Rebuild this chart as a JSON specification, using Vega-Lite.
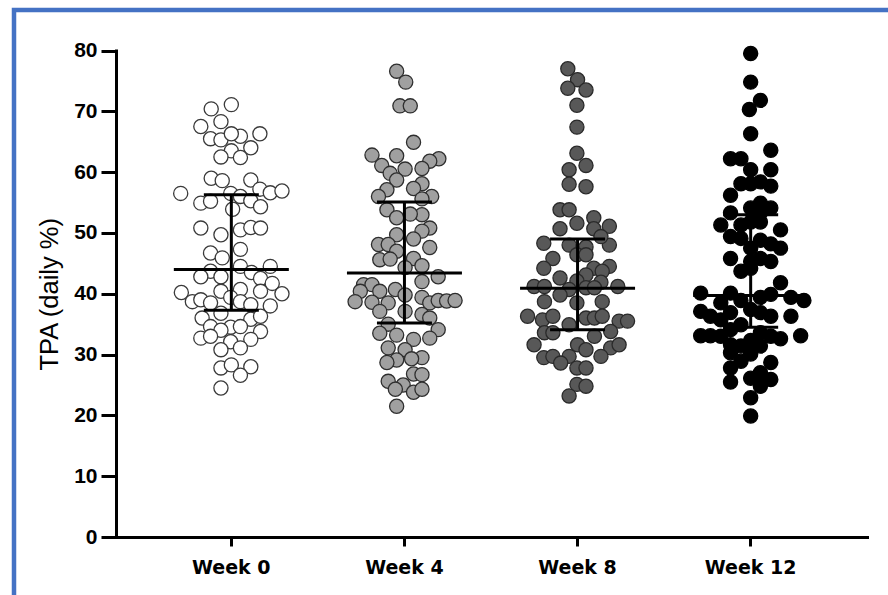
{
  "$schema": "https://vega.github.io/schema/vega-lite/v6.json",
  "autosize": {"type": "none"},
  "width": 884,
  "height": 595,
  "padding": {"left": 14, "top": 10, "right": -10, "bottom": -10},
  "background": "white",
  "config": {
    "view": {"stroke": "#4472C4", "strokeWidth": 4.5, "fill": "white"},
    "axis": {"grid": false}
  },
  "datasets": {
    "pts": [
      {"week":"Week 0","jitter":0,"tpa":71.1},{"week":"Week 0","jitter":-0.31,"tpa":70.4},{"week":"Week 0","jitter":-0.16,"tpa":68.3},{"week":"Week 0","jitter":-0.47,"tpa":67.5},{"week":"Week 0","jitter":0.44,"tpa":66.3},{"week":"Week 0","jitter":0.14,"tpa":65.9},{"week":"Week 0","jitter":-0.32,"tpa":65.5},{"week":"Week 0","jitter":-0.16,"tpa":65.3},{"week":"Week 0","jitter":0,"tpa":66.3},{"week":"Week 0","jitter":0.30,"tpa":64.0},{"week":"Week 0","jitter":0,"tpa":63.5},{"week":"Week 0","jitter":-0.16,"tpa":62.5},{"week":"Week 0","jitter":0.14,"tpa":62.4},{"week":"Week 0","jitter":-0.31,"tpa":59.0},{"week":"Week 0","jitter":-0.14,"tpa":58.6},{"week":"Week 0","jitter":0.30,"tpa":58.7},{"week":"Week 0","jitter":-0.78,"tpa":56.5},{"week":"Week 0","jitter":0.44,"tpa":57.2},{"week":"Week 0","jitter":0.60,"tpa":56.6},{"week":"Week 0","jitter":0.78,"tpa":56.9},{"week":"Week 0","jitter":-0.47,"tpa":54.9},{"week":"Week 0","jitter":-0.32,"tpa":55.2},{"week":"Week 0","jitter":-0.01,"tpa":56.5},{"week":"Week 0","jitter":0.14,"tpa":56.0},{"week":"Week 0","jitter":0.30,"tpa":55.3},{"week":"Week 0","jitter":0.45,"tpa":54.3},{"week":"Week 0","jitter":0.02,"tpa":53.9},{"week":"Week 0","jitter":-0.47,"tpa":50.8},{"week":"Week 0","jitter":-0.16,"tpa":49.7},{"week":"Week 0","jitter":0.14,"tpa":50.5},{"week":"Week 0","jitter":0.30,"tpa":50.9},{"week":"Week 0","jitter":0.45,"tpa":50.8},{"week":"Week 0","jitter":-0.32,"tpa":46.7},{"week":"Week 0","jitter":0.14,"tpa":47.3},{"week":"Week 0","jitter":-0.14,"tpa":45.9},{"week":"Week 0","jitter":-0.32,"tpa":43.7},{"week":"Week 0","jitter":-0.47,"tpa":42.8},{"week":"Week 0","jitter":0.14,"tpa":44.5},{"week":"Week 0","jitter":0.31,"tpa":43.5},{"week":"Week 0","jitter":0.60,"tpa":44.5},{"week":"Week 0","jitter":-0.16,"tpa":42.8},{"week":"Week 0","jitter":0.45,"tpa":42.5},{"week":"Week 0","jitter":0.63,"tpa":41.7},{"week":"Week 0","jitter":-0.77,"tpa":40.2},{"week":"Week 0","jitter":-0.16,"tpa":40.4},{"week":"Week 0","jitter":0.14,"tpa":40.7},{"week":"Week 0","jitter":0.45,"tpa":40.4},{"week":"Week 0","jitter":0.78,"tpa":40.0},{"week":"Week 0","jitter":-0.60,"tpa":38.7},{"week":"Week 0","jitter":-0.47,"tpa":39.0},{"week":"Week 0","jitter":-0.32,"tpa":38.5},{"week":"Week 0","jitter":-0.01,"tpa":39.4},{"week":"Week 0","jitter":0.14,"tpa":38.7},{"week":"Week 0","jitter":0.30,"tpa":38.2},{"week":"Week 0","jitter":0.60,"tpa":38.0},{"week":"Week 0","jitter":-0.45,"tpa":36.0},{"week":"Week 0","jitter":-0.16,"tpa":36.8},{"week":"Week 0","jitter":0.30,"tpa":35.8},{"week":"Week 0","jitter":0.45,"tpa":36.3},{"week":"Week 0","jitter":-0.32,"tpa":34.6},{"week":"Week 0","jitter":-0.01,"tpa":34.5},{"week":"Week 0","jitter":0.14,"tpa":34.6},{"week":"Week 0","jitter":-0.16,"tpa":34.0},{"week":"Week 0","jitter":0.45,"tpa":33.8},{"week":"Week 0","jitter":-0.47,"tpa":32.7},{"week":"Week 0","jitter":-0.32,"tpa":33.0},{"week":"Week 0","jitter":0.30,"tpa":32.5},{"week":"Week 0","jitter":-0.01,"tpa":32.1},{"week":"Week 0","jitter":-0.16,"tpa":30.8},{"week":"Week 0","jitter":0.14,"tpa":31.1},{"week":"Week 0","jitter":-0.16,"tpa":27.8},{"week":"Week 0","jitter":0,"tpa":28.3},{"week":"Week 0","jitter":0.30,"tpa":28.0},{"week":"Week 0","jitter":0.14,"tpa":26.6},{"week":"Week 0","jitter":-0.16,"tpa":24.5},
      {"week":"Week 4","jitter":-0.12,"tpa":76.6},{"week":"Week 4","jitter":0.02,"tpa":74.8},{"week":"Week 4","jitter":-0.07,"tpa":70.9},{"week":"Week 4","jitter":0.09,"tpa":70.9},{"week":"Week 4","jitter":0.14,"tpa":64.9},{"week":"Week 4","jitter":-0.50,"tpa":62.8},{"week":"Week 4","jitter":-0.12,"tpa":62.7},{"week":"Week 4","jitter":0.53,"tpa":62.2},{"week":"Week 4","jitter":0.39,"tpa":61.8},{"week":"Week 4","jitter":-0.35,"tpa":61.1},{"week":"Week 4","jitter":0.01,"tpa":60.5},{"week":"Week 4","jitter":0.27,"tpa":60.6},{"week":"Week 4","jitter":-0.22,"tpa":59.8},{"week":"Week 4","jitter":-0.12,"tpa":58.7},{"week":"Week 4","jitter":0.27,"tpa":58.1},{"week":"Week 4","jitter":0.14,"tpa":57.3},{"week":"Week 4","jitter":-0.27,"tpa":57.1},{"week":"Week 4","jitter":-0.40,"tpa":56.0},{"week":"Week 4","jitter":0.42,"tpa":56.0},{"week":"Week 4","jitter":0.27,"tpa":55.6},{"week":"Week 4","jitter":-0.27,"tpa":53.8},{"week":"Week 4","jitter":-0.12,"tpa":52.5},{"week":"Week 4","jitter":0.27,"tpa":53.0},{"week":"Week 4","jitter":0.09,"tpa":53.1},{"week":"Week 4","jitter":0.39,"tpa":50.8},{"week":"Week 4","jitter":0.27,"tpa":50.3},{"week":"Week 4","jitter":-0.12,"tpa":49.7},{"week":"Week 4","jitter":0.14,"tpa":49.0},{"week":"Week 4","jitter":-0.40,"tpa":48.1},{"week":"Week 4","jitter":-0.25,"tpa":48.1},{"week":"Week 4","jitter":0.39,"tpa":47.6},{"week":"Week 4","jitter":-0.12,"tpa":47.0},{"week":"Week 4","jitter":-0.38,"tpa":45.6},{"week":"Week 4","jitter":-0.22,"tpa":45.7},{"week":"Week 4","jitter":0.14,"tpa":45.8},{"week":"Week 4","jitter":0.27,"tpa":44.6},{"week":"Week 4","jitter":0.01,"tpa":44.3},{"week":"Week 4","jitter":0.52,"tpa":42.8},{"week":"Week 4","jitter":0.27,"tpa":42.0},{"week":"Week 4","jitter":-0.63,"tpa":41.5},{"week":"Week 4","jitter":-0.50,"tpa":41.5},{"week":"Week 4","jitter":-0.68,"tpa":40.4},{"week":"Week 4","jitter":-0.38,"tpa":40.4},{"week":"Week 4","jitter":-0.14,"tpa":40.7},{"week":"Week 4","jitter":-0.76,"tpa":38.7},{"week":"Week 4","jitter":-0.50,"tpa":38.6},{"week":"Week 4","jitter":-0.25,"tpa":38.5},{"week":"Week 4","jitter":0.01,"tpa":39.8},{"week":"Week 4","jitter":0.27,"tpa":39.4},{"week":"Week 4","jitter":0.39,"tpa":38.5},{"week":"Week 4","jitter":0.52,"tpa":38.9},{"week":"Week 4","jitter":0.65,"tpa":38.8},{"week":"Week 4","jitter":0.78,"tpa":38.9},{"week":"Week 4","jitter":-0.38,"tpa":37.1},{"week":"Week 4","jitter":0.01,"tpa":37.1},{"week":"Week 4","jitter":0.27,"tpa":36.6},{"week":"Week 4","jitter":0.39,"tpa":36.0},{"week":"Week 4","jitter":-0.25,"tpa":35.0},{"week":"Week 4","jitter":0.52,"tpa":34.1},{"week":"Week 4","jitter":-0.38,"tpa":33.5},{"week":"Week 4","jitter":-0.12,"tpa":33.2},{"week":"Week 4","jitter":0.14,"tpa":32.5},{"week":"Week 4","jitter":0.39,"tpa":32.7},{"week":"Week 4","jitter":-0.25,"tpa":31.1},{"week":"Week 4","jitter":0.01,"tpa":30.8},{"week":"Week 4","jitter":0.27,"tpa":29.5},{"week":"Week 4","jitter":-0.12,"tpa":29.1},{"week":"Week 4","jitter":-0.27,"tpa":28.7},{"week":"Week 4","jitter":0.11,"tpa":29.3},{"week":"Week 4","jitter":0.14,"tpa":26.8},{"week":"Week 4","jitter":0.27,"tpa":26.7},{"week":"Week 4","jitter":-0.25,"tpa":25.6},{"week":"Week 4","jitter":-0.02,"tpa":25.0},{"week":"Week 4","jitter":-0.14,"tpa":24.3},{"week":"Week 4","jitter":0.14,"tpa":23.8},{"week":"Week 4","jitter":0.27,"tpa":24.3},{"week":"Week 4","jitter":-0.12,"tpa":21.5},
      {"week":"Week 8","jitter":-0.15,"tpa":77.0},{"week":"Week 8","jitter":0,"tpa":75.2},{"week":"Week 8","jitter":-0.15,"tpa":73.8},{"week":"Week 8","jitter":0.13,"tpa":73.5},{"week":"Week 8","jitter":-0.01,"tpa":71.0},{"week":"Week 8","jitter":-0.01,"tpa":67.4},{"week":"Week 8","jitter":-0.01,"tpa":63.1},{"week":"Week 8","jitter":0.13,"tpa":61.1},{"week":"Week 8","jitter":-0.13,"tpa":60.4},{"week":"Week 8","jitter":-0.13,"tpa":58.0},{"week":"Week 8","jitter":0.13,"tpa":57.6},{"week":"Week 8","jitter":-0.27,"tpa":53.8},{"week":"Week 8","jitter":-0.13,"tpa":53.8},{"week":"Week 8","jitter":0.25,"tpa":52.5},{"week":"Week 8","jitter":-0.01,"tpa":51.6},{"week":"Week 8","jitter":0.49,"tpa":51.1},{"week":"Week 8","jitter":-0.27,"tpa":50.7},{"week":"Week 8","jitter":0.25,"tpa":50.7},{"week":"Week 8","jitter":-0.52,"tpa":48.3},{"week":"Week 8","jitter":-0.13,"tpa":48.0},{"week":"Week 8","jitter":0.13,"tpa":47.7},{"week":"Week 8","jitter":0.49,"tpa":48.0},{"week":"Week 8","jitter":0.36,"tpa":49.4},{"week":"Week 8","jitter":-0.38,"tpa":45.8},{"week":"Week 8","jitter":-0.01,"tpa":46.4},{"week":"Week 8","jitter":0.13,"tpa":46.4},{"week":"Week 8","jitter":-0.52,"tpa":44.2},{"week":"Week 8","jitter":0.25,"tpa":44.2},{"week":"Week 8","jitter":0.49,"tpa":44.5},{"week":"Week 8","jitter":0.38,"tpa":43.7},{"week":"Week 8","jitter":-0.27,"tpa":42.6},{"week":"Week 8","jitter":0.13,"tpa":43.1},{"week":"Week 8","jitter":-0.01,"tpa":42.1},{"week":"Week 8","jitter":0.36,"tpa":41.9},{"week":"Week 8","jitter":-0.67,"tpa":41.2},{"week":"Week 8","jitter":-0.51,"tpa":41.2},{"week":"Week 8","jitter":-0.13,"tpa":40.7},{"week":"Week 8","jitter":0.13,"tpa":41.0},{"week":"Week 8","jitter":0.26,"tpa":41.0},{"week":"Week 8","jitter":0.62,"tpa":41.2},{"week":"Week 8","jitter":-0.27,"tpa":39.8},{"week":"Week 8","jitter":-0.51,"tpa":38.7},{"week":"Week 8","jitter":-0.01,"tpa":38.5},{"week":"Week 8","jitter":0.38,"tpa":38.7},{"week":"Week 8","jitter":-0.77,"tpa":36.3},{"week":"Week 8","jitter":-0.54,"tpa":35.7},{"week":"Week 8","jitter":-0.38,"tpa":36.3},{"week":"Week 8","jitter":0.13,"tpa":36.0},{"week":"Week 8","jitter":0.26,"tpa":36.0},{"week":"Week 8","jitter":0.38,"tpa":36.3},{"week":"Week 8","jitter":0.64,"tpa":35.5},{"week":"Week 8","jitter":0.77,"tpa":35.5},{"week":"Week 8","jitter":-0.13,"tpa":34.9},{"week":"Week 8","jitter":-0.51,"tpa":33.6},{"week":"Week 8","jitter":-0.38,"tpa":33.6},{"week":"Week 8","jitter":0.26,"tpa":33.0},{"week":"Week 8","jitter":0.51,"tpa":33.8},{"week":"Week 8","jitter":0,"tpa":31.6},{"week":"Week 8","jitter":-0.67,"tpa":31.6},{"week":"Week 8","jitter":0.13,"tpa":30.8},{"week":"Week 8","jitter":0.51,"tpa":31.1},{"week":"Week 8","jitter":0.64,"tpa":31.6},{"week":"Week 8","jitter":-0.52,"tpa":29.5},{"week":"Week 8","jitter":-0.38,"tpa":29.7},{"week":"Week 8","jitter":-0.13,"tpa":29.7},{"week":"Week 8","jitter":-0.26,"tpa":28.6},{"week":"Week 8","jitter":0.36,"tpa":29.7},{"week":"Week 8","jitter":-0.01,"tpa":27.8},{"week":"Week 8","jitter":0.13,"tpa":27.8},{"week":"Week 8","jitter":-0.01,"tpa":25.1},{"week":"Week 8","jitter":0.13,"tpa":24.8},{"week":"Week 8","jitter":-0.13,"tpa":23.2},
      {"week":"Week 12","jitter":0,"tpa":79.5},{"week":"Week 12","jitter":0,"tpa":74.8},{"week":"Week 12","jitter":0.15,"tpa":71.8},{"week":"Week 12","jitter":-0.02,"tpa":70.3},{"week":"Week 12","jitter":0,"tpa":66.3},{"week":"Week 12","jitter":0.31,"tpa":63.6},{"week":"Week 12","jitter":-0.31,"tpa":62.2},{"week":"Week 12","jitter":-0.15,"tpa":62.2},{"week":"Week 12","jitter":0,"tpa":60.4},{"week":"Week 12","jitter":0.31,"tpa":60.4},{"week":"Week 12","jitter":-0.15,"tpa":58.1},{"week":"Week 12","jitter":0.15,"tpa":58.4},{"week":"Week 12","jitter":0.31,"tpa":57.7},{"week":"Week 12","jitter":0,"tpa":58.1},{"week":"Week 12","jitter":-0.31,"tpa":56.2},{"week":"Week 12","jitter":0.15,"tpa":54.9},{"week":"Week 12","jitter":0,"tpa":54.1},{"week":"Week 12","jitter":0.31,"tpa":54.1},{"week":"Week 12","jitter":-0.31,"tpa":53.3},{"week":"Week 12","jitter":0.15,"tpa":53.3},{"week":"Week 12","jitter":-0.46,"tpa":51.3},{"week":"Week 12","jitter":-0.15,"tpa":51.3},{"week":"Week 12","jitter":0,"tpa":51.8},{"week":"Week 12","jitter":0.15,"tpa":51.8},{"week":"Week 12","jitter":0.46,"tpa":50.5},{"week":"Week 12","jitter":-0.31,"tpa":49.4},{"week":"Week 12","jitter":-0.15,"tpa":49.1},{"week":"Week 12","jitter":0.15,"tpa":48.8},{"week":"Week 12","jitter":0,"tpa":47.5},{"week":"Week 12","jitter":0.46,"tpa":47.5},{"week":"Week 12","jitter":0.31,"tpa":48.2},{"week":"Week 12","jitter":-0.31,"tpa":45.8},{"week":"Week 12","jitter":0.15,"tpa":45.8},{"week":"Week 12","jitter":0.31,"tpa":45.3},{"week":"Week 12","jitter":0,"tpa":45.3},{"week":"Week 12","jitter":-0.15,"tpa":43.7},{"week":"Week 12","jitter":0,"tpa":44.2},{"week":"Week 12","jitter":0.46,"tpa":41.8},{"week":"Week 12","jitter":-0.77,"tpa":40.1},{"week":"Week 12","jitter":-0.31,"tpa":40.1},{"week":"Week 12","jitter":0.31,"tpa":39.9},{"week":"Week 12","jitter":0.15,"tpa":39.4},{"week":"Week 12","jitter":0.62,"tpa":39.4},{"week":"Week 12","jitter":0.82,"tpa":38.9},{"week":"Week 12","jitter":-0.46,"tpa":38.5},{"week":"Week 12","jitter":-0.15,"tpa":38.9},{"week":"Week 12","jitter":-0.77,"tpa":37.1},{"week":"Week 12","jitter":-0.62,"tpa":36.3},{"week":"Week 12","jitter":-0.46,"tpa":35.7},{"week":"Week 12","jitter":-0.31,"tpa":36.9},{"week":"Week 12","jitter":0,"tpa":37.4},{"week":"Week 12","jitter":0.15,"tpa":36.9},{"week":"Week 12","jitter":0.31,"tpa":36.3},{"week":"Week 12","jitter":0.62,"tpa":36.3},{"week":"Week 12","jitter":-0.15,"tpa":34.9},{"week":"Week 12","jitter":-0.31,"tpa":34.1},{"week":"Week 12","jitter":-0.77,"tpa":33.1},{"week":"Week 12","jitter":-0.62,"tpa":33.1},{"week":"Week 12","jitter":-0.46,"tpa":33.0},{"week":"Week 12","jitter":0.15,"tpa":33.6},{"week":"Week 12","jitter":0.31,"tpa":33.0},{"week":"Week 12","jitter":0.46,"tpa":32.6},{"week":"Week 12","jitter":0.77,"tpa":33.1},{"week":"Week 12","jitter":0,"tpa":32.3},{"week":"Week 12","jitter":-0.31,"tpa":31.6},{"week":"Week 12","jitter":-0.15,"tpa":31.4},{"week":"Week 12","jitter":0.15,"tpa":31.4},{"week":"Week 12","jitter":-0.31,"tpa":30.3},{"week":"Week 12","jitter":0,"tpa":30.1},{"week":"Week 12","jitter":0.31,"tpa":28.7},{"week":"Week 12","jitter":-0.15,"tpa":28.9},{"week":"Week 12","jitter":-0.31,"tpa":27.8},{"week":"Week 12","jitter":0.15,"tpa":27.0},{"week":"Week 12","jitter":0,"tpa":26.1},{"week":"Week 12","jitter":-0.31,"tpa":25.5},{"week":"Week 12","jitter":0.31,"tpa":25.9},{"week":"Week 12","jitter":0.15,"tpa":24.8},{"week":"Week 12","jitter":0,"tpa":22.9},{"week":"Week 12","jitter":0,"tpa":19.9}
    ],
    "stats": [
      {"week":"Week 0","median":44.0,"q1":37.3,"q3":56.3},
      {"week":"Week 4","median":43.4,"q1":35.2,"q3":55.1},
      {"week":"Week 8","median":40.9,"q1":34.1,"q3":49.0},
      {"week":"Week 12","median":39.7,"q1":34.5,"q3":53.0}
    ]
  },
  "encoding": {
    "x": {
      "field": "week", "type": "nominal",
      "sort": ["Week 0","Week 4","Week 8","Week 12"],
      "scale": {"type": "band", "domain": ["Week 0","Week 4","Week 8","Week 12"], "range": [101, 853], "paddingInner": 0.25, "paddingOuter": 0.297},
      "axis": {
        "title": null, "orient": "bottom", "offset": -68,
        "domainColor": "black", "domainWidth": 3, "domainCap": "square",
        "tickColor": "black", "tickWidth": 3, "tickSize": 9,
        "labelFont": "DejaVu Sans", "labelFontWeight": "bold", "labelFontSize": 19, "labelColor": "black",
        "labelPadding": 12, "labelAngle": 0
      }
    }
  },
  "layer": [
    {
      "data": {"name": "pts"},
      "mark": {"type": "point", "shape": "circle", "filled": true, "size": 200, "strokeWidth": 1.3, "opacity": 1},
      "encoding": {
        "y": {
          "field": "tpa", "type": "quantitative",
          "scale": {"domain": [0, 80], "range": [527, 40.5], "nice": false, "zero": true},
          "axis": {
            "title": "TPA (daily %)", "orient": "left", "offset": -102,
            "values": [0,10,20,30,40,50,60,70,80],
            "domainColor": "black", "domainWidth": 3, "domainCap": "square",
            "tickColor": "black", "tickWidth": 3, "tickSize": 15,
            "labelFont": "Liberation Sans", "labelFontWeight": "bold", "labelFontSize": 21, "labelColor": "black", "labelPadding": 4,
            "titleFont": "Liberation Sans", "titleFontWeight": "normal", "titleFontSize": 25.5, "titleColor": "black", "titlePadding": 11
          }
        },
        "xOffset": {"field": "jitter", "type": "quantitative", "scale": {"domain": [-1, 1], "nice": false, "zero": false}},
        "fill": {
          "field": "week", "type": "nominal", "legend": null,
          "scale": {"domain": ["Week 0","Week 4","Week 8","Week 12"], "range": ["#ffffff","#a0a0a0","#585858","#000000"]}
        },
        "stroke": {
          "field": "week", "type": "nominal", "legend": null,
          "scale": {"domain": ["Week 0","Week 4","Week 8","Week 12"], "range": ["#3a3a3a","#2e2e2e","#2a2a2a","#000000"]}
        }
      }
    },
    {
      "data": {"name": "stats"},
      "mark": {"type": "rule", "color": "black", "strokeWidth": 3},
      "encoding": {
        "y": {"field": "q1", "type": "quantitative"},
        "y2": {"field": "q3"}
      }
    },
    {
      "data": {"name": "stats"},
      "mark": {"type": "tick", "color": "black", "size": 115, "thickness": 3, "opacity": 1},
      "encoding": {"y": {"field": "median", "type": "quantitative"}}
    },
    {
      "data": {"name": "stats"},
      "mark": {"type": "tick", "color": "black", "size": 55, "thickness": 3, "opacity": 1},
      "encoding": {"y": {"field": "q1", "type": "quantitative"}}
    },
    {
      "data": {"name": "stats"},
      "mark": {"type": "tick", "color": "black", "size": 55, "thickness": 3, "opacity": 1},
      "encoding": {"y": {"field": "q3", "type": "quantitative"}}
    }
  ]
}
